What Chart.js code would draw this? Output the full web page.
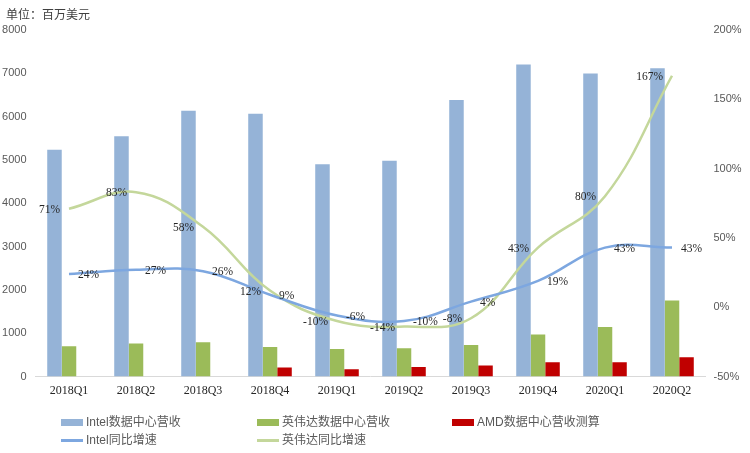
<!DOCTYPE html>
<html>
<head>
<meta charset="utf-8">
<script src="https://cdn.jsdelivr.net/npm/chart.js@4.4.1/dist/chart.umd.min.js"></script>
<style>
  html, body { margin: 0; padding: 0; background: #fff; }
  #wrap { position: relative; width: 750px; height: 453px; overflow: hidden; }
  #growth { position: absolute; left: 0; top: 0; }
  .unit { position: absolute; left: 6px; top: 5px; font: 12px "Noto Sans CJK SC", sans-serif; color: #404040; }
  .lg { position: absolute; font: 12px "Liberation Sans", "Noto Sans CJK SC", sans-serif; color: #595959; white-space: nowrap; line-height: 14px; }
  .lg i { position: absolute; left: -25px; width: 22px; }
</style>
</head>
<body>
<div id="wrap">
  <canvas id="growth" width="750" height="453"></canvas>
  <div class="unit">单位：百万美元</div>
  <div id="legend"></div>
</div>
<script>
/* ------------------------------------------------------------------ */
/*  Data                                                              */
/* ------------------------------------------------------------------ */

var QUARTERS = ['2018Q1', '2018Q2', '2018Q3', '2018Q4', '2019Q1',
                '2019Q2', '2019Q3', '2019Q4', '2020Q1', '2020Q2'];

// revenue, million USD
var INTEL_DC  = [5234, 5549, 6138, 6069, 4903, 4983, 6385, 7206, 6995, 7119];
var NVIDIA_DC = [701, 760, 792, 679, 634, 655, 726, 968, 1141, 1752];
var AMD_DC    = [null, null, null, 205, 170, 220, 255, 330, 330, 445];

// year-on-year growth, %
var INTEL_YOY  = [24, 27, 26, 9, -6, -10, 4, 19, 43, 43];
var NVIDIA_YOY = [71, 83, 58, 12, -10, -14, -8, 43, 80, 167];

var LEFT_TICKS  = { min: 0, max: 8000, step: 1000 };
var RIGHT_TICKS = { min: -50, max: 200, step: 50 };

/* ------------------------------------------------------------------ */
/*  Styling                                                           */
/* ------------------------------------------------------------------ */

var COLORS = {
  intelBar:  '#95B3D7',
  nvBar:     '#9BBB59',
  amdBar:    '#C00000',
  intelLine: '#7DA7E0',
  nvLine:    '#C4D79B',
};

var LEGEND_ITEMS = [
  { text: 'Intel数据中心营收',   color: COLORS.intelBar,  kind: 'bar',  x: 86,  y: 415 },
  { text: '英伟达数据中心营收',  color: COLORS.nvBar,     kind: 'bar',  x: 282, y: 415 },
  { text: 'AMD数据中心营收测算', color: COLORS.amdBar,    kind: 'bar',  x: 477, y: 415 },
  { text: 'Intel同比增速',       color: COLORS.intelLine, kind: 'line', x: 86,  y: 433 },
  { text: '英伟达同比增速',      color: COLORS.nvLine,    kind: 'line', x: 282, y: 433 },
];

/* ------------------------------------------------------------------ */
/*  Data labels on the growth lines                                   */
/* ------------------------------------------------------------------ */

var lineLabels = {
  id: 'lineLabels',
  afterDatasetsDraw: function (chart) {
    var ctx = chart.ctx;
    ctx.save();
    ctx.font = '11.5px "Liberation Serif", serif';
    ctx.fillStyle = '#262626';
    ctx.textBaseline = 'middle';
    chart.data.datasets.forEach(function (ds, i) {
      if (!ds.labelSide) return;
      var meta = chart.getDatasetMeta(i);
      meta.data.forEach(function (pt, j) {
        var txt = ds.data[j] + '%';
        if (ds.labelSide === 'left') {
          ctx.textAlign = 'right';
          ctx.fillText(txt, pt.x - 9, pt.y + 1);
        } else {
          ctx.textAlign = 'left';
          ctx.fillText(txt, pt.x + 9, pt.y + 1);
        }
      });
    });
    ctx.restore();
  },
};

/* ------------------------------------------------------------------ */
/*  Chart                                                             */
/* ------------------------------------------------------------------ */

function barSet(label, data, color) {
  return {
    type: 'bar',
    label: label,
    data: data,
    backgroundColor: color,
    borderWidth: 0,
    yAxisID: 'y',
    order: 2,
    categoryPercentage: 0.65,
    barPercentage: 1.0,
  };
}

function lineSet(label, data, color, side) {
  return {
    type: 'line',
    label: label,
    data: data,
    borderColor: color,
    borderWidth: 2.5,
    pointRadius: 0,
    tension: 0.4,
    fill: false,
    yAxisID: 'y1',
    order: 1,
    labelSide: side,
  };
}

var axisFont = { family: '"Liberation Sans", sans-serif', size: 11 };

new Chart(document.getElementById('growth').getContext('2d'), {
  data: {
    labels: QUARTERS,
    datasets: [
      lineSet('Intel同比增速', INTEL_YOY, COLORS.intelLine, 'right'),
      lineSet('英伟达同比增速', NVIDIA_YOY, COLORS.nvLine, 'left'),
      barSet('Intel数据中心营收', INTEL_DC, COLORS.intelBar),
      barSet('英伟达数据中心营收', NVIDIA_DC, COLORS.nvBar),
      barSet('AMD数据中心营收测算', AMD_DC, COLORS.amdBar),
    ],
  },
  options: {
    responsive: false,
    animation: false,
    layout: { padding: { top: 30, bottom: 52.5, left: 0, right: 0 } },
    plugins: {
      legend: { display: false },
      tooltip: { enabled: false },
    },
    scales: {
      x: {
        grid: { display: false, drawTicks: false },
        border: { display: true, color: '#D9D9D9', width: 1 },
        ticks: {
          padding: 7,
          color: '#262626',
          font: { family: '"Liberation Serif", serif', size: 12 },
          maxRotation: 0,
          autoSkip: false,
        },
        afterFit: function (s) { s.height = 24; },
      },
      y: {
        position: 'left',
        min: LEFT_TICKS.min,
        max: LEFT_TICKS.max,
        grid: { display: false, drawTicks: false },
        border: { display: false },
        ticks: {
          stepSize: LEFT_TICKS.step,
          padding: 9,
          color: '#595959',
          font: axisFont,
          callback: function (v) { return String(v); },
        },
        afterFit: function (s) { s.width = 35.5; },
      },
      y1: {
        position: 'right',
        min: RIGHT_TICKS.min,
        max: RIGHT_TICKS.max,
        grid: { display: false, drawTicks: false },
        border: { display: false },
        ticks: {
          stepSize: RIGHT_TICKS.step,
          padding: 8,
          color: '#595959',
          font: axisFont,
          callback: function (v) { return v + '%'; },
        },
        afterFit: function (s) { s.width = 44.5; },
      },
    },
  },
  plugins: [lineLabels],
});

/* ------------------------------------------------------------------ */
/*  Legend (3 columns, 2 rows)                                        */
/* ------------------------------------------------------------------ */

var legendEl = document.getElementById('legend');
LEGEND_ITEMS.forEach(function (item) {
  var div = document.createElement('div');
  div.className = 'lg';
  div.style.left = item.x + 'px';
  div.style.top = item.y + 'px';
  var mark = document.createElement('i');
  mark.style.background = item.color;
  if (item.kind === 'bar') {
    mark.style.top = '4px';
    mark.style.height = '7px';
  } else {
    mark.style.top = '6px';
    mark.style.height = '2.5px';
  }
  div.appendChild(mark);
  div.appendChild(document.createTextNode(item.text));
  legendEl.appendChild(div);
});
</script>
</body>
</html>
